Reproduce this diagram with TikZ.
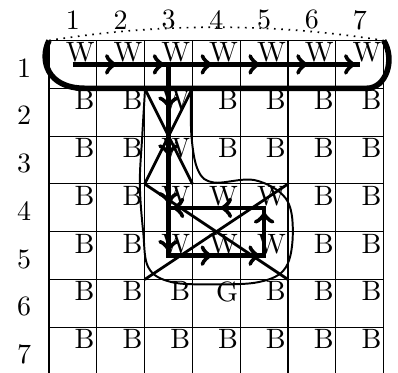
\documentclass[tikz,border=0pt]{standalone}
\begin{document}
\begin{tikzpicture}[x=0.6cm,y=-0.6cm,
  cellw/.style={anchor=north east, inner sep=0.6pt},
  lbl/.style={anchor=center, inner sep=0pt},
  walkline/.style={line width=1.6pt},
  walk/.style={->, line width=1.6pt, shorten >=1.5pt},
  cross/.style={line width=1pt},
  region/.style={line width=0.7pt},
  bracket/.style={line width=2pt}]
\useasboundingbox (-1.025,-0.847) rectangle (7.30,6.935);
% grid
\foreach \k in {0,...,7} {
  \draw (\k,0) -- (\k,7);
  \draw (0,\k) -- (7,\k);
}
% cell letters
\foreach \c [count=\i] in {W,W,W,W,W,W,W} \node[cellw] (r1c\i) at (\i,0) {\c};
\foreach \c [count=\i] in {B,B,W,B,B,B,B} \node[cellw] (r2c\i) at (\i,1) {\c};
\foreach \c [count=\i] in {B,B,W,B,B,B,B} \node[cellw] (r3c\i) at (\i,2) {\c};
\foreach \c [count=\i] in {B,B,W,W,W,B,B} \node[cellw] (r4c\i) at (\i,3) {\c};
\foreach \c [count=\i] in {B,B,W,W,W,B,B} \node[cellw] (r5c\i) at (\i,4) {\c};
\foreach \c [count=\i] in {B,B,B,G,B,B,B} \node[cellw] (r6c\i) at (\i,5) {\c};
\foreach \c [count=\i] in {B,B,B,B,B,B,B} \node[cellw] (r7c\i) at (\i,6) {\c};
% labels
\foreach \i in {1,...,7} {
  \node[lbl] (col\i) at (\i-0.5,-0.43) {\i};
  \node[lbl] (row\i) at (-0.52,\i-0.43) {\i};
}
% dotted arc
\coordinate (tl) at (0,0);
\coordinate (tr) at (7,0);
\draw[dotted, line width=0.6pt] (tl) .. controls (2.33,-0.37) and (4.67,-0.37) .. (tr);
% bracket
\draw[bracket] (tl) .. controls (-0.2,0.4) and (-0.05,1) .. (0.75,1) -- (6.65,1) .. controls (7.05,1) and (7.25,0.4) .. (tr);
% cell centres
\foreach \x in {1,...,7} \foreach \y in {1,...,7} \coordinate (p\x\y) at (\x-0.5,\y-0.5);
% grid points
\coordinate (g21) at (2,1); \coordinate (g31) at (3,1);
\coordinate (g23) at (2,3); \coordinate (g33) at (3,3);
\coordinate (g53) at (5,3); \coordinate (g25) at (2,5); \coordinate (g55) at (5,5);
% crosses
\draw[cross] (g21) -- (g33);
\draw[cross] (g31) -- (g23);
\draw[cross] (g23) -- (g55);
\draw[cross] (g25) -- (g53);
% region
\draw[region] plot[smooth, tension=0.6] coordinates {(2.97,1.0) (2.98,2.0) (3.12,2.72) (3.45,2.97) (4.3,2.92) (4.95,3.3) (5.1,4.0) (4.95,4.75) (4.4,5.05) (3.4,5.1) (2.55,5.05) (2.08,4.75) (1.97,4.0) (1.9,3.0) (1.95,2.0) (2.01,1.0)} -- cycle;
% walk lines
\draw[walkline] (p11) -- (p71);
\draw[walkline] (p31) -- (p35) -- (p55) -- (p54) -- (p34);
\foreach \a/\b in {11/21,21/31,31/41,41/51,51/61,61/71,31/32,32/33,33/34,34/35,35/45,45/55,55/54,54/44,44/34}
  \draw[walk] (p\a) -- (p\b);
\end{tikzpicture}
\end{document}
